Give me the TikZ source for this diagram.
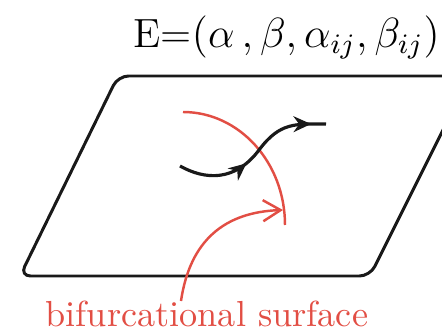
\documentclass[tikz,border=0pt]{standalone}
\usepackage{amsmath,amssymb}
\usepackage{xcolor}
\usepackage{tikz}
\usetikzlibrary{arrows.meta,decorations.markings}
\definecolor{bifred}{RGB}{226,78,68}

\begin{document}
\begin{tikzpicture}[x=0.01cm,y=-0.01cm,
  plane/.style={draw=black!90,line width=0.85pt,rounded corners=3pt},
  orbit/.style={draw=black!90,line width=0.9pt,postaction={decorate},
    decoration={markings,
      mark=at position 0.43 with {\arrow{Stealth[length=5pt,width=4.5pt]}},
      mark=at position 0.91 with {\arrow{Stealth[length=5pt,width=4.5pt]}}}},
  surf/.style={draw=bifred,line width=0.7pt},
  lab/.style={text=bifred,font=\fontsize{10.3}{12}\selectfont,inner sep=0pt}]
\useasboundingbox (0,0) rectangle (442,333);
\clip (0,0) rectangle (442,333);
% parameter vector
\node[anchor=base west,inner sep=0pt,font=\fontsize{11.6}{14}\selectfont] (params) at (133,47)
  {E=$(\alpha\,,\beta,\alpha_{ij},\beta_{ij})$};
% the parameter plane
\draw[plane] (118,76) -- (470,76) -- (370,276) -- (20,276) -- cycle;
% bifurcational surface (its trace in the plane)
\coordinate (sTop) at (183,112);
\coordinate (sEnd) at (285,225);
\draw[surf] (sTop) arc[start angle=90,end angle=0,x radius=102,y radius=-113];
% a path of parameters crossing it
\coordinate (oStart) at (180,166);
\coordinate (oCross) at (259,150);
\coordinate (oEnd) at (326,124);
\draw[orbit] (oStart) .. controls (205,180) and (235,182) .. (oCross)
  .. controls (280,122) and (295,124) .. (oEnd);
% label and its pointer
\node[lab,anchor=base west] (surfLab) at (45,326) {bifurcational surface};
\coordinate (tip) at (283,210);
\draw[surf,-{Straight Barb[length=5pt,width=6pt]}] (181,301) .. controls (190,240) and (225,212) .. (tip);
\end{tikzpicture}
\end{document}
